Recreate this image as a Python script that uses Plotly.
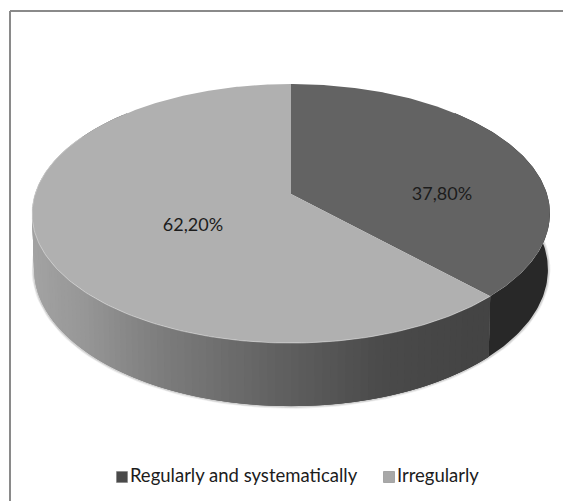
import math
import plotly.graph_objects as go

# Survey shares and their presentation
categories = ["Regularly and systematically", "Irregularly"]
shares = [37.80, 62.20]
top_colors = ["#636363", "#b0b0b0"]
swatch_colors = ["#4a4a4a", "#a8a8a8"]
label_xy = [(442, 195), (193, 226)]
legend_xy = [(122, 477), (389, 477)]

# Perspective disc used for the pie's upper and lower faces
CX = 291
TOP = dict(cy=194, a=256, b=126.6, k=0.1506)
BOTTOM = dict(cy=249, a=254, b=133.5, k=0.1506)


def project(theta_deg, plane, r=1.0):
    t = math.radians(theta_deg)
    u, v = r * math.sin(t), -r * math.cos(t)
    d = 1 - plane["k"] * v
    return CX + plane["a"] * u / d, plane["cy"] + plane["b"] * v / d


def lerp_gray(x, stops):
    for (x0, g0), (x1, g1) in zip(stops, stops[1:]):
        if x <= x1:
            g = g0 + (g1 - g0) * (x - x0) / (x1 - x0)
            return f"rgb({g:.0f},{g:.0f},{g:.0f})"
    g = stops[-1][1]
    return f"rgb({g:.0f},{g:.0f},{g:.0f})"


WALL_RAMP = [(20, 168), (100, 150), (180, 124), (290, 98), (400, 74), (487, 68), (560, 68)]
DARK_WALL = "#282828"
WALL_FROM, WALL_TO = 45, 315

fig = go.Figure()


def polygon(xs, ys, color):
    fig.add_trace(go.Scatter(x=xs, y=ys, mode="lines", fill="toself", fillcolor=color,
                             line=dict(width=0),
                             hoverinfo="skip", showlegend=False))


# Slice boundaries, clockwise from twelve o'clock
boundary = shares[0] / sum(shares) * 360

# Soft shadow hugging the lower rim
for width, alpha in ((5, 0.10), (3, 0.18)):
    rim = [project(t, BOTTOM) for t in range(WALL_FROM, WALL_TO + 1, 2)]
    fig.add_trace(go.Scatter(x=[p[0] for p in rim], y=[p[1] for p in rim], mode="lines",
                             line=dict(color=f"rgba(90,90,90,{alpha})", width=width),
                             hoverinfo="skip", showlegend=False))

# Side wall as narrow overlapping strips, painted from the outer edges towards the
# slice boundary, so the shading varies along it without seams
STEP = 1.5


def wall_strip(t0, t1, color_at):
    a, b = project(t0, TOP), project(t1, TOP)
    c, d = project(t1, BOTTOM), project(t0, BOTTOM)
    polygon([a[0], b[0], c[0], d[0], a[0]], [a[1], b[1], c[1], d[1], a[1]],
            color_at((a[0] + b[0]) / 2))


dark_angles = [WALL_FROM + i for i in range(int(boundary) - WALL_FROM + 1)] + [boundary]
dark_top = [project(t, TOP) for t in dark_angles]
dark_bottom = [project(t, BOTTOM) for t in reversed(dark_angles)]
polygon([p[0] for p in dark_top + dark_bottom],
        [p[1] for p in dark_top + dark_bottom], DARK_WALL)

theta = float(WALL_TO)
while theta > boundary:
    wall_strip(max(theta - STEP * 3, boundary), theta,
               lambda x: lerp_gray(x + 10, WALL_RAMP))
    theta -= STEP

# Upper faces of the two slices
start = 0.0
for share, color in zip(shares, top_colors):
    sweep = share / sum(shares) * 360
    n = int(sweep * 2)
    pts = [project(start + sweep * i / n, TOP) for i in range(n + 1)]
    xs = [CX] + [p[0] for p in pts] + [CX]
    ys = [TOP["cy"]] + [p[1] for p in pts] + [TOP["cy"]]
    polygon(xs, ys, color)
    start += sweep

# Pale highlight along the front edge of the top face
edge = [project(t, TOP) for t in range(int(boundary), 300)]
fig.add_trace(go.Scatter(x=[p[0] for p in edge], y=[p[1] for p in edge], mode="lines",
                         line=dict(color="rgba(225,225,225,0.55)", width=1),
                         hoverinfo="skip", showlegend=False))

# Percentage labels
for share, (x, y) in zip(shares, label_xy):
    fig.add_trace(go.Scatter(x=[x], y=[y], mode="text",
                             text=[f"{share:.2f}%".replace(".", ",")],
                             textfont=dict(family="Lato", size=18, color="#1c1c1c"),
                             hoverinfo="skip", showlegend=False))

# Legend entries
for name, color, (x, y) in zip(categories, swatch_colors, legend_xy):
    fig.add_trace(go.Scatter(x=[x], y=[y], mode="markers+text", text=[name],
                             textposition="middle right",
                             marker=dict(symbol="square", size=11, color=color,
                                         line=dict(color="#777777", width=0.5)),
                             textfont=dict(family="Lato", size=18.5, color="#1c1c1c"),
                             hoverinfo="skip", showlegend=False))

# Chart frame: only the top and left edges fall inside the page
frame = dict(type="line", xref="x", yref="y", line=dict(color="#8a8a8a", width=2), layer="above")
fig.update_layout(
    width=563, height=501,
    margin=dict(l=0, r=0, t=0, b=0),
    paper_bgcolor="white", plot_bgcolor="white",
    showlegend=False,
    xaxis=dict(range=[0, 563], visible=False, fixedrange=True),
    yaxis=dict(range=[501, 0], visible=False, fixedrange=True),
    shapes=[dict(frame, x0=10, y0=11, x1=563, y1=11),
            dict(frame, x0=10, y0=11, x1=10, y1=501)],
)

fig.write_html("out.html", config=dict(displayModeBar=False))
